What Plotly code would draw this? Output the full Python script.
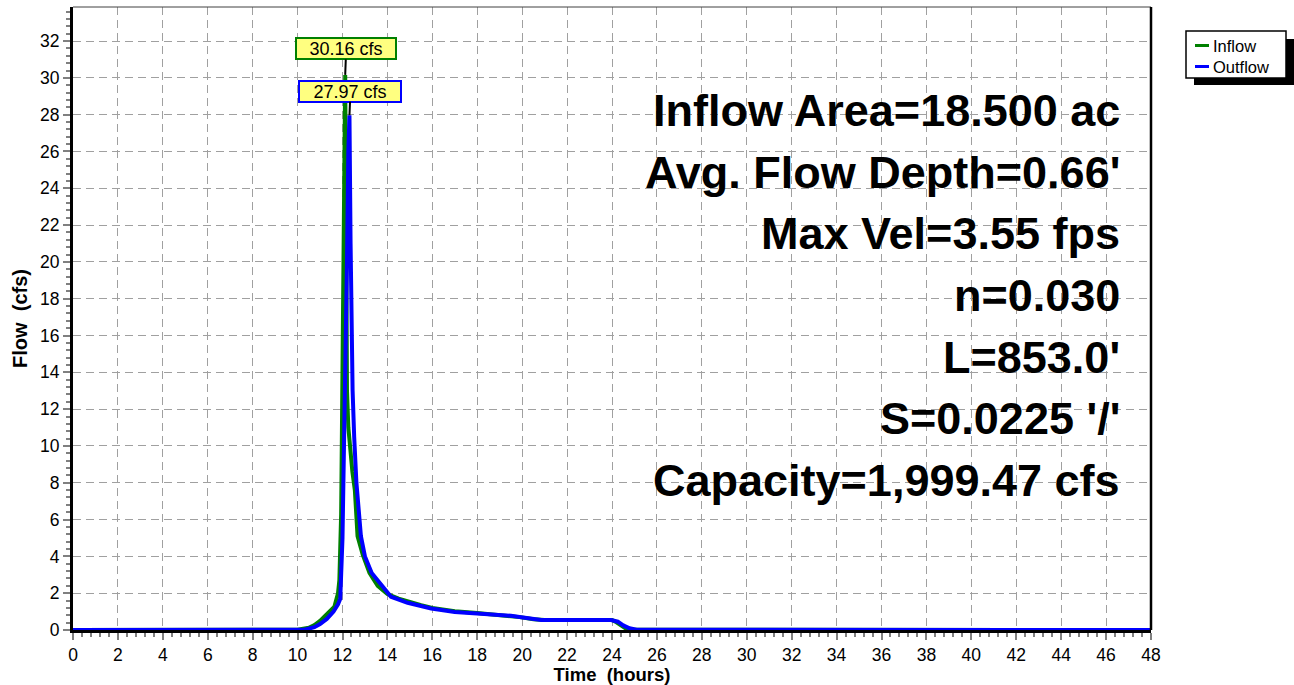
import plotly.graph_objects as go

# hydrograph values (hours, cfs)
inflow_t = [0, 10.0, 10.5, 10.75, 11.0, 11.2, 11.4, 11.64, 11.8, 11.86, 11.94, 11.99,
            12.04, 12.08, 12.12, 12.16, 12.2, 12.26, 12.34, 12.44, 12.55, 12.67, 12.9,
            13.2, 13.57, 14.0, 14.5, 15.0, 15.5, 16.0, 17.0, 18.0, 19.0, 19.9, 20.5,
            21.0, 22.0, 23.0, 24.0, 24.2, 24.45, 24.65, 25.0, 48]
inflow_q = [0, 0.02, 0.12, 0.27, 0.5, 0.72, 0.95, 1.27, 2.0, 2.7, 6.3, 13.0,
            19.0, 25.0, 30.16, 22.0, 13.0, 11.0, 9.6, 8.6, 7.6, 5.1, 4.1,
            3.1, 2.4, 1.95, 1.7, 1.5, 1.35, 1.2, 1.02, 0.92, 0.82, 0.7, 0.58,
            0.55, 0.55, 0.55, 0.55, 0.42, 0.2, 0.05, 0.01, 0]

outflow_t = [0, 10.3, 10.75, 11.0, 11.3, 11.6, 11.8, 11.9, 12.0, 12.08, 12.14, 12.2,
             12.26, 12.31, 12.36, 12.41, 12.45, 12.52, 12.62, 12.82, 13.0, 13.3,
             13.72, 14.16, 14.9, 15.5, 15.95, 17.0, 17.44, 18.77, 19.5, 19.96, 20.5,
             20.85, 22.0, 23.0, 23.96, 24.26, 24.5, 24.78, 25.1, 48]
outflow_q = [0, 0.02, 0.15, 0.32, 0.6, 1.0, 1.4, 1.7, 5.0, 10.0, 14.0, 20.0,
             26.0, 27.97, 21.0, 16.0, 13.0, 10.5, 8.0, 5.1, 4.0, 3.1,
             2.44, 1.81, 1.48, 1.3, 1.17, 0.98, 0.94, 0.87, 0.77, 0.69, 0.6,
             0.54, 0.54, 0.54, 0.54, 0.45, 0.25, 0.09, 0.02, 0]

inflow_peak = (12.12, 30.16)
outflow_peak = (12.31, 27.97)

info_lines = ["Inflow Area=18.500 ac", "Avg. Flow Depth=0.66'", "Max Vel=3.55 fps",
              "n=0.030", "L=853.0'", "S=0.0225 '/'", "Capacity=1,999.47 cfs"]

GREEN = "#008000"
BLUE = "#0000ff"
FONT = "Liberation Sans, Arial, sans-serif"

# plot area in pixels (for placing overlay items)
L, R, T, B = 73, 1151, 7, 630
W, H = 1294, 685


def px(x):
    return (x - L) / (R - L)


def py(y):
    return (B - y) / (B - T)


fig = go.Figure()
fig.add_trace(go.Scatter(x=inflow_t, y=inflow_q, mode="lines", name="Inflow",
                         line=dict(color=GREEN, width=4)))
fig.add_trace(go.Scatter(x=outflow_t, y=outflow_q, mode="lines", name="Outflow",
                         line=dict(color=BLUE, width=4)))

axis_common = dict(
    showline=True, linecolor="black", linewidth=3, layer="below traces",
    showgrid=True, gridcolor="#a0a0a0", gridwidth=1, griddash="8px,5px",
    zeroline=False, ticks="outside", ticklen=7, tickwidth=1.5, tickcolor="#808080",
    tickfont=dict(family=FONT, size=17.5, color="black"),
    minor=dict(ticks="outside", ticklen=4, tickwidth=1.5, tickcolor="#808080",
               dtick=0.4, showgrid=False),
)

fig.update_xaxes(range=[0, 48], dtick=2, tick0=0,
                 title=dict(text="<b>Time\u00a0\u00a0(hours)</b>", standoff=2,
                            font=dict(family=FONT, size=18.5, color="black")),
                 **axis_common)
fig.update_yaxes(range=[0, 33.85], dtick=2, tick0=0,
                 title=dict(text="<b>Flow\u00a0\u00a0(cfs)</b>", standoff=8,
                            font=dict(family=FONT, size=20, color="black")),
                 **axis_common)

shapes = [
    # frame top and right
    dict(type="line", xref="paper", yref="paper", x0=0, x1=1, y0=1, y1=1,
         line=dict(color="#404040", width=1)),
    dict(type="line", xref="paper", yref="paper", x0=1, x1=1, y0=0, y1=1,
         line=dict(color="black", width=2.5)),
    # legend shadow and box
    dict(type="rect", xref="paper", yref="paper", x0=px(1194), x1=px(1294),
         y0=py(85), y1=py(39), fillcolor="black", line=dict(width=0)),
    dict(type="rect", xref="paper", yref="paper", x0=px(1186), x1=px(1286),
         y0=py(78), y1=py(31), fillcolor="white", line=dict(color="black", width=1.5)),
    dict(type="line", xref="paper", yref="paper", x0=px(1195), x1=px(1209),
         y0=py(45.5), y1=py(45.5), line=dict(color=GREEN, width=3)),
    dict(type="line", xref="paper", yref="paper", x0=px(1195), x1=px(1209),
         y0=py(66.5), y1=py(66.5), line=dict(color=BLUE, width=3)),
]

annotations = [
    dict(xref="paper", yref="paper", x=px(1211), y=py(45.5), xanchor="left",
         yanchor="middle", text="Inflow", showarrow=False,
         font=dict(family=FONT, size=16.5, color="black")),
    dict(xref="paper", yref="paper", x=px(1211), y=py(66.5), xanchor="left",
         yanchor="middle", text="Outflow", showarrow=False,
         font=dict(family=FONT, size=16.5, color="black")),
    # peak labels
    dict(x=inflow_peak[0], y=inflow_peak[1], text="%.2f cfs" % inflow_peak[1],
         showarrow=True, arrowhead=0, arrowwidth=2, arrowcolor="black", ax=1, ay=-26,
         bgcolor="#ffff80", bordercolor=GREEN, borderwidth=2, borderpad=0,
         width=98, height=19, font=dict(family=FONT, size=18, color="black")),
    dict(x=outflow_peak[0], y=outflow_peak[1], text="%.2f cfs" % outflow_peak[1],
         showarrow=True, arrowhead=0, arrowwidth=2, arrowcolor="black", ax=1, ay=-24,
         bgcolor="#ffff80", bordercolor=BLUE, borderwidth=2, borderpad=0,
         width=100, height=19, font=dict(family=FONT, size=18, color="black")),
]

for i, line in enumerate(info_lines):
    annotations.append(dict(
        xref="paper", yref="paper", x=px(1122), y=py(111 + 61.5 * i),
        xanchor="right", yanchor="middle", text="<b>%s</b>" % line, showarrow=False,
        font=dict(family=FONT, size=45, color="black")))

fig.update_layout(
    width=W, height=H,
    margin=dict(l=L, r=W - R, t=T, b=H - B, autoexpand=False),
    paper_bgcolor="white", plot_bgcolor="white",
    showlegend=False,
    shapes=shapes, annotations=annotations,
    font=dict(family=FONT, color="black"),
)

# page body has a default margin; drop it so the figure sits at the window corner
fig.write_html("out.html", config={"displayModeBar": False},
               post_script="document.body.style.margin='0';")
